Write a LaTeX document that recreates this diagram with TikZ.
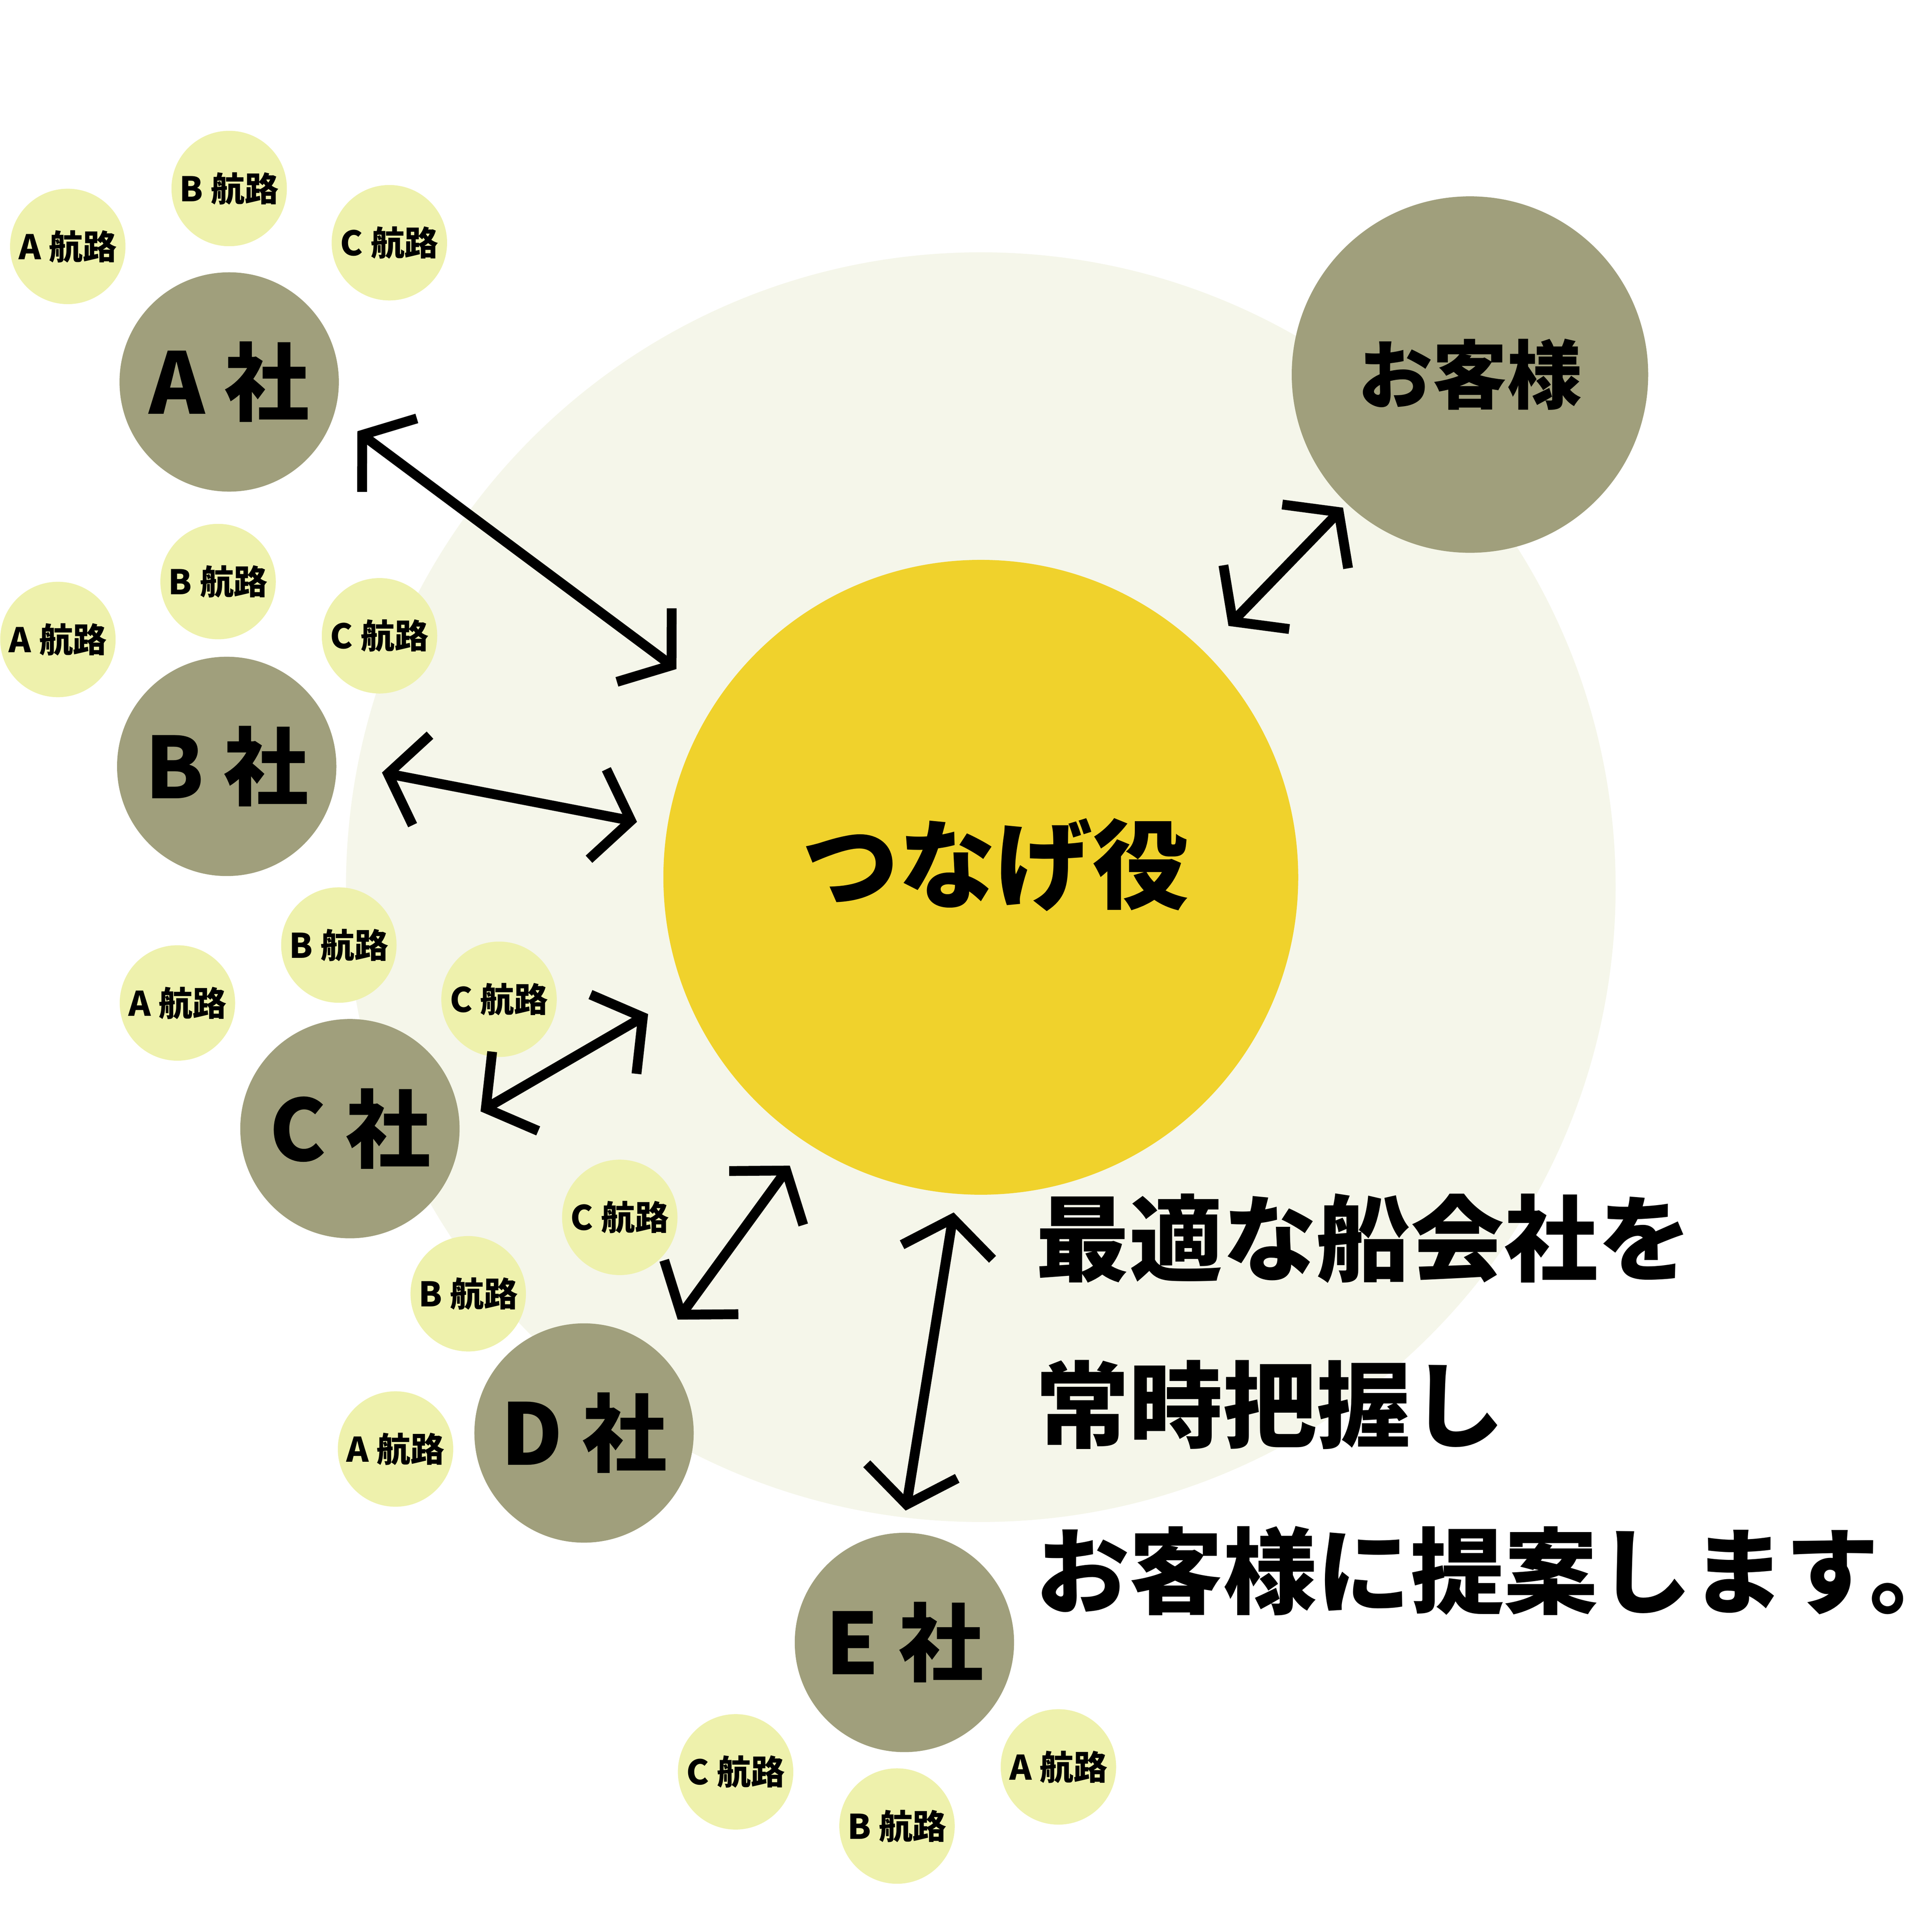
\documentclass[tikz,border=0pt]{standalone}
\usepackage{fontspec}
\newfontfamily\cjk{Noto Sans CJK JP}
\usetikzlibrary{arrows.meta}
\definecolor{pale}{HTML}{F5F6EA}
\definecolor{sun}{HTML}{F0D22C}
\definecolor{olive}{HTML}{A09F7C}
\definecolor{lime}{HTML}{EEF1AC}
\tikzset{
 co/.style={circle,fill=olive,minimum size=64.6pt,inner sep=0,font=\cjk\bfseries\fontsize{25}{25}\selectfont},
 rt/.style={circle,fill=lime,minimum size=34pt,inner sep=0,font=\cjk\bfseries\fontsize{10}{10}\selectfont},
 arr/.style={line width=2.9pt,{Straight Barb[length=10pt,width=27pt]}-{Straight Barb[length=10pt,width=27pt]}},
 msg/.style={anchor=west,inner sep=0,font=\cjk\bfseries\fontsize{27.6}{27.6}\selectfont}
}
\begin{document}
\begin{tikzpicture}[x=0.01275cm,y=-0.01275cm]
\useasboundingbox (0,0) rectangle (1568,1568);
\node[circle,fill=pale,minimum size=374pt,inner sep=0] (bg) at (796,720) {};
\node[circle,fill=sun,minimum size=187pt,inner sep=0] (hub) at (796,712) {};
\node[font=\cjk\bfseries\fontsize{28.5}{28.5}\selectfont,inner sep=0] (hubt) at (808,702) {つなげ役};
\node[circle,fill=olive,minimum size=105pt,inner sep=0,font=\cjk\bfseries\fontsize{22}{22}\selectfont] (cust) at (1193,304) {お客様};
\node[co] (A) at (186,310) {A 社};
\node[co] (B) at (184,622) {B 社};
\node[co] (C) at (284,916) {C 社};
\node[co] (D) at (474,1163) {D 社};
\node[co] (E) at (734,1333) {E 社};
\node[rt] (aA) at (55,200) {A 航路};
\node[rt] (aB) at (186,153) {B 航路};
\node[rt] (aC) at (316,197) {C 航路};
\node[rt] (bA) at (47,519) {A 航路};
\node[rt] (bB) at (177,472) {B 航路};
\node[rt] (bC) at (308,516) {C 航路};
\node[rt] (cA) at (144,814) {A 航路};
\node[rt] (cB) at (275,767) {B 航路};
\node[rt] (cC) at (405,811) {C 航路};
\node[rt] (dC) at (503,988) {C 航路};
\node[rt] (dB) at (380,1050) {B 航路};
\node[rt] (dA) at (321,1176) {A 航路};
\node[rt] (eC) at (597,1438) {C 航路};
\node[rt] (eB) at (728,1482) {B 航路};
\node[rt] (eA) at (859,1434) {A 航路};
\coordinate (a1) at (290,350); \coordinate (a2) at (549,543);
\coordinate (b1) at (310,627); \coordinate (b2) at (517,667);
\coordinate (c1) at (390,902); \coordinate (c2) at (526,823);
\coordinate (d1) at (550,1071); \coordinate (d2) at (641,946);
\coordinate (e1) at (735,1226); \coordinate (e2) at (774,984);
\coordinate (k1) at (997,508); \coordinate (k2) at (1090,412);
\draw[arr] (a1) -- (a2);
\draw[arr] (b1) -- (b2);
\draw[arr] (c1) -- (c2);
\draw[arr] (d1) -- (d2);
\draw[arr] (e1) -- (e2);
\draw[arr] (k1) -- (k2);
\node[msg] (m1) at (840,1005) {最適な船会社を};
\node[msg] (m2) at (840,1140) {常時把握し};
\node[msg] (m3) at (840,1275) {お客様に提案します。};
\end{tikzpicture}
\end{document}
